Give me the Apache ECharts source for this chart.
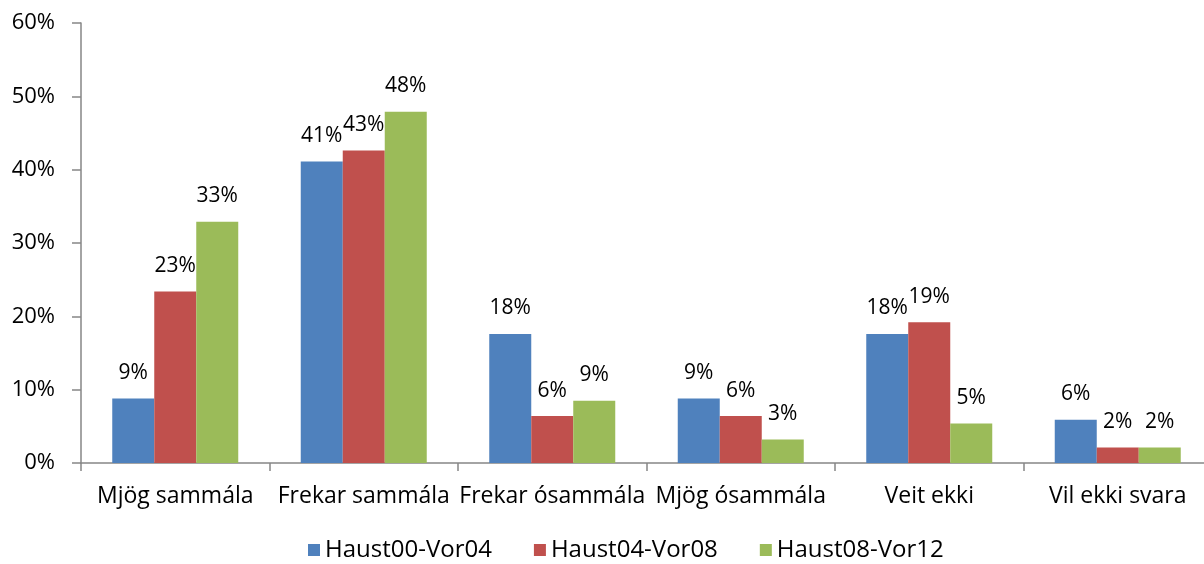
<!DOCTYPE html>
<html>
<head>
<meta charset="utf-8">
<script src="https://cdn.jsdelivr.net/npm/echarts@6/dist/echarts.min.js"></script>
<style>
  html, body { margin: 0; padding: 0; background: #fff; }
  #chart { width: 1204px; height: 564px; }
</style>
</head>
<body>
<div id="chart"></div>
<script>
// flokkar og gildi (%)
const categories = ['Mjög sammála', 'Frekar sammála', 'Frekar ósammála', 'Mjög ósammála', 'Veit ekki', 'Vil ekki svara']
const seriesNames = ['Haust00-Vor04', 'Haust04-Vor08', 'Haust08-Vor12']
const haust00 = [8.8, 41.1, 17.6, 8.8, 17.6, 5.9]
const haust04 = [23.4, 42.6, 6.4, 6.4, 19.2, 2.1]
const haust08 = [32.9, 47.9, 8.5, 3.2, 5.4, 2.1]
const colors = ['#4F81BD', '#C0504D', '#9BBB59']

const font = '"Open Sans", sans-serif'
const myChart = echarts.init(document.getElementById('chart'))

function makeSeries(name, data, i) {
    return {
        name: name,
        type: 'bar',
        data: data,
        barWidth: 42,
        barGap: '0%',
        itemStyle: { color: colors[i] },
        label: {
            show: true,
            position: 'top',
            distance: 15,
            color: '#000',
            fontFamily: font,
            fontSize: 21,
            formatter: p => Math.round(p.value) + '%'
        }
    }
}

const options = {
    animation: false,
    textStyle: { fontFamily: font },
    legend: {
        left: 308,
        top: 538,
        padding: 0,
        itemWidth: 12,
        itemHeight: 12,
        itemGap: 42,
        icon: 'rect',
        textStyle: { fontFamily: font, fontSize: 24, color: '#000' },
        data: seriesNames
    },
    grid: {
        left: 81,
        right: -8,
        top: 23,
        bottom: 101,
        outerBoundsMode: 'none'
    },
    xAxis: {
        type: 'category',
        data: categories,
        axisLine: { lineStyle: { color: '#868686', width: 1.5 } },
        axisTick: { show: true, length: 8, alignWithLabel: false, lineStyle: { color: '#868686', width: 1.5 } },
        axisLabel: { color: '#000', fontFamily: font, fontSize: 23, margin: 22, interval: 0 }
    },
    yAxis: {
        type: 'value',
        min: 0,
        max: 60,
        interval: 10,
        splitLine: { show: false },
        axisLine: { show: true, lineStyle: { color: '#868686', width: 1.5 } },
        axisTick: { show: true, length: 9, lineStyle: { color: '#868686', width: 1.5 } },
        axisLabel: { color: '#000', fontFamily: font, fontSize: 22, margin: 26, formatter: '{value}%' }
    },
    series: [
        makeSeries(seriesNames[0], haust00, 0),
        makeSeries(seriesNames[1], haust04, 1),
        makeSeries(seriesNames[2], haust08, 2)
    ]
}
myChart.setOption(options)
</script>
</body>
</html>
